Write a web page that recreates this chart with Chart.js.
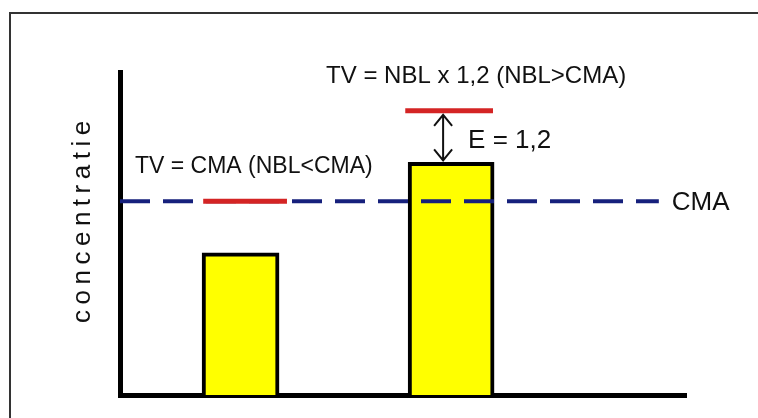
<!DOCTYPE html>
<html>
<head>
<meta charset="utf-8">
<script src="https://cdn.jsdelivr.net/npm/chart.js@4.4.1/dist/chart.umd.min.js"></script>
<style>
  html, body { margin: 0; padding: 0; background: #fff; overflow: hidden; }
  #wrap { position: relative; width: 758px; height: 418px; }
  #frame { position: absolute; left: 9px; top: 12px; width: 800px; height: 500px; border: 2px solid #333; box-sizing: border-box; }
  canvas { position: absolute; left: 0; top: 0; }
</style>
</head>
<body>
<div id="wrap">
  <div id="frame"></div>
  <canvas id="chart" width="758" height="418"></canvas>
</div>
<script>
// values (both axes run 0 - 100, no units)
const categories = ['NBL < CMA', 'NBL > CMA'];
const nblPositions = [21.3, 58.5];
const nblValues = [44, 72];
const cmaValue = 60;
const cmaRange = [0, 95.2];
const tvValues = [60, 88];
const tvRanges = [[14.7, 29.5], [50.4, 65.9]];

const tvLabels = ['TV = CMA (NBL<CMA)', 'TV = NBL x 1,2 (NBL>CMA)'];
const cmaLabel = 'CMA';
const eLabel = 'E = 1,2';
const yTitle = 'concentratie';

const FONT = '"Liberation Sans", Arial, sans-serif';

// texts, arrow and axis title
const annotate = {
    id: 'annotate',
    afterDraw(chart) {
        const { ctx, chartArea, scales: { x, y } } = chart;
        ctx.save();
        ctx.fillStyle = '#111';
        ctx.strokeStyle = '#111';
        ctx.textBaseline = 'alphabetic';

        // CMA label at end of dashed line
        ctx.font = '26px ' + FONT;
        ctx.textAlign = 'left';
        ctx.fillText(cmaLabel, x.getPixelForValue(cmaRange[1]) + 13, y.getPixelForValue(cmaValue) + 9);

        // TV labels
        ctx.font = '23px ' + FONT;
        ctx.fillText(tvLabels[0], chartArea.left + 15, y.getPixelForValue(tvValues[0]) - 28);

        ctx.font = '24px ' + FONT;
        ctx.textAlign = 'center';
        const mid2 = (tvRanges[1][0] + tvRanges[1][1]) / 2;
        ctx.fillText(tvLabels[1], x.getPixelForValue(mid2) + 27, y.getPixelForValue(tvValues[1]) - 28);

        // double arrow between bar and TV
        const ax = x.getPixelForValue(nblPositions[1]) - 8;
        const top = y.getPixelForValue(tvValues[1]) + 4;
        const bot = y.getPixelForValue(nblValues[1]) - 2;
        ctx.lineWidth = 2;
        ctx.beginPath();
        ctx.moveTo(ax, top);
        ctx.lineTo(ax, bot);
        ctx.moveTo(ax - 9, top + 11);
        ctx.lineTo(ax, top);
        ctx.lineTo(ax + 9, top + 11);
        ctx.moveTo(ax - 9, bot - 11);
        ctx.lineTo(ax, bot);
        ctx.lineTo(ax + 9, bot - 11);
        ctx.stroke();

        ctx.font = '26px ' + FONT;
        ctx.textAlign = 'left';
        ctx.fillText(eLabel, ax + 25, (top + bot) / 2 + 10);

        // rotated, spaced y title
        ctx.translate(chartArea.left - 30, chartArea.bottom - 72);
        ctx.rotate(-Math.PI / 2);
        ctx.font = '26px ' + FONT;
        ctx.letterSpacing = '5.5px';
        ctx.fillText(yTitle, 0, 0);
        ctx.restore();
    }
};

const ctx = document.getElementById('chart').getContext('2d');
const chart = new Chart(ctx, {
    type: 'bar',
    data: {
        datasets: [
            {
                type: 'line',
                label: 'TV ' + categories[0],
                data: [{ x: tvRanges[0][0], y: tvValues[0] }, { x: tvRanges[0][1], y: tvValues[0] }],
                borderColor: '#d42424',
                borderWidth: 5,
                pointRadius: 0,
                order: 1
            },
            {
                type: 'line',
                label: 'TV ' + categories[1],
                data: [{ x: tvRanges[1][0], y: tvValues[1] }, { x: tvRanges[1][1], y: tvValues[1] }],
                borderColor: '#d42424',
                borderWidth: 5,
                pointRadius: 0,
                order: 1
            },
            {
                type: 'line',
                label: cmaLabel,
                data: [{ x: cmaRange[0], y: cmaValue }, { x: cmaRange[1], y: cmaValue }],
                borderColor: '#16207c',
                borderWidth: 4,
                borderDash: [30, 13],
                pointRadius: 0,
                order: 2
            },
            {
                label: categories[0],
                data: [{ x: nblPositions[0], y: nblValues[0] }],
                backgroundColor: '#ffff00',
                borderColor: '#000',
                borderWidth: 4,
                barThickness: 77,
                maxBarThickness: 77,
                grouped: false,
                order: 3
            },
            {
                label: categories[1],
                data: [{ x: nblPositions[1], y: nblValues[1] }],
                backgroundColor: '#ffff00',
                borderColor: '#000',
                borderWidth: 4,
                barThickness: 86,
                maxBarThickness: 86,
                grouped: false,
                order: 3
            }
        ]
    },
    options: {
        responsive: false,
        animation: false,
        layout: {
            autoPadding: false,
            padding: { left: 120, right: 72, top: 72, bottom: 23 }
        },
        plugins: {
            legend: { display: false },
            tooltip: { enabled: false }
        },
        scales: {
            x: {
                type: 'linear',
                min: 0,
                max: 100,
                offset: false,
                z: 1,
                grid: { display: false, drawTicks: false },
                ticks: { display: false, stepSize: 100 },
                border: { display: true, width: 5, color: '#000' }
            },
            y: {
                min: 0,
                max: 100,
                z: 1,
                grid: { display: false, drawTicks: false },
                ticks: { display: false, stepSize: 100 },
                border: { display: true, width: 5, color: '#000' }
            }
        }
    },
    plugins: [annotate]
});
</script>
</body>
</html>
